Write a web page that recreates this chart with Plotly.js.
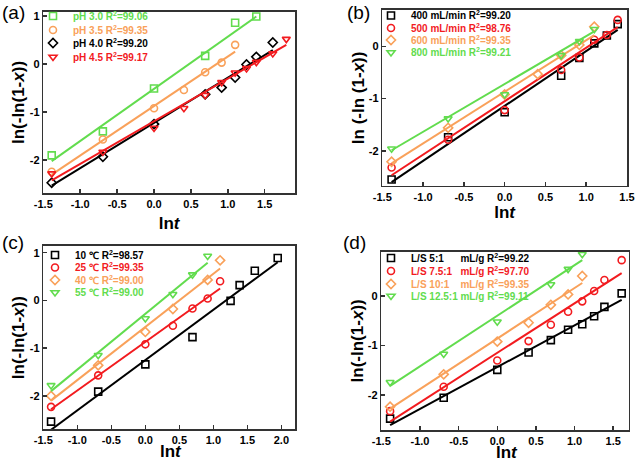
<!DOCTYPE html>
<html>
<head>
<meta charset="utf-8">
<script src="https://cdn.plot.ly/plotly-3.0.1.min.js"></script>
<style>html,body{margin:0;padding:0;background:#fff;}#chart{width:636px;height:462px;}</style>
</head>
<body>
<div id="chart"></div>
<script>
// ---------- colours ----------
const GREEN = '#62DC4E', ORANGE = '#F9A15A', BLACK = '#000000', RED = '#F21B1F';

// ---------- panel (a): pH ----------
const a_pH30_x = [-1.386, -0.693, 0, 0.693, 1.099, 1.386];
const a_pH30_y = [-1.90, -1.40, -0.51, 0.17, 0.86, 0.99];
const a_pH35_x = [-1.386, -0.693, 0, 0.405, 0.693, 0.916, 1.099];
const a_pH35_y = [-2.24, -1.57, -0.92, -0.54, -0.17, 0.03, 0.40];
const a_pH40_x = [-1.386, -0.693, 0, 0.693, 0.916, 1.099, 1.253, 1.386, 1.609];
const a_pH40_y = [-2.47, -1.93, -1.25, -0.63, -0.49, -0.28, -0.01, 0.15, 0.45];
const a_pH45_x = [-1.386, -0.693, 0, 0.405, 0.693, 0.916, 1.099, 1.253, 1.386, 1.609, 1.792];
const a_pH45_y = [-2.28, -1.83, -1.33, -0.92, -0.65, -0.38, -0.18, -0.09, 0.04, 0.22, 0.52];
const a_fit30_x = [-1.386, 1.386], a_fit30_y = [-2.02, 0.99];
const a_fit35_x = [-1.386, 1.099], a_fit35_y = [-2.30, 0.26];
const a_fit40_x = [-1.386, 1.609], a_fit40_y = [-2.53, 0.29];
const a_fit45_x = [-1.386, 1.792], a_fit45_y = [-2.42, 0.40];
const a_names = ['pH 3.0 R<sup>2</sup>=99.06', 'pH 3.5 R<sup>2</sup>=99.35', 'pH 4.0 R<sup>2</sup>=99.20', 'pH 4.5 R<sup>2</sup>=99.17'];

// ---------- panel (b): flow rate ----------
const b_400_x = [-1.386, -0.693, 0, 0.693, 0.916, 1.099, 1.253, 1.386];
const b_400_y = [-2.55, -1.74, -1.26, -0.56, -0.22, 0.06, 0.21, 0.43];
const b_500_x = [-1.386, -0.693, 0, 0.693, 0.916, 1.099, 1.253, 1.386];
const b_500_y = [-2.32, -1.79, -1.22, -0.45, -0.21, 0.13, 0.22, 0.51];
const b_600_x = [-1.386, -0.693, 0, 0.405, 0.693, 0.916, 1.099];
const b_600_y = [-2.21, -1.56, -0.92, -0.53, -0.17, 0.03, 0.38];
const b_800_x = [-1.386, -0.693, 0, 0.693, 0.916, 1.099];
const b_800_y = [-1.96, -1.38, -0.92, -0.17, 0.10, 0.33];
const b_fit400_x = [-1.386, 1.386], b_fit400_y = [-2.60, 0.32];
const b_fit500_x = [-1.386, 1.386], b_fit500_y = [-2.47, 0.37];
const b_fit600_x = [-1.386, 1.099], b_fit600_y = [-2.24, 0.22];
const b_fit800_x = [-1.386, 1.099], b_fit800_y = [-1.99, 0.29];
const b_names = ['400 mL/min R<sup>2</sup>=99.20', '500 mL/min R<sup>2</sup>=98.76', '600 mL/min R<sup>2</sup>=99.35', '800 mL/min R<sup>2</sup>=99.21'];

// ---------- panel (c): temperature ----------
const c_10_x = [-1.386, -0.693, 0, 0.693, 1.253, 1.386, 1.609, 1.946];
const c_10_y = [-2.54, -1.91, -1.34, -0.77, -0.01, 0.32, 0.62, 0.89];
const c_25_x = [-1.386, -0.693, 0, 0.405, 0.693, 0.916, 1.099];
const c_25_y = [-2.23, -1.57, -0.92, -0.53, -0.17, 0.04, 0.40];
const c_40_x = [-1.386, -0.693, 0, 0.405, 0.916, 1.099];
const c_40_y = [-2.00, -1.36, -0.66, -0.18, 0.43, 0.84];
const c_55_x = [-1.386, -0.693, 0, 0.405, 0.693, 0.916];
const c_55_y = [-1.78, -1.15, -0.38, 0.13, 0.54, 0.93];
const c_fit10_x = [-1.386, 1.946], c_fit10_y = [-2.71, 0.80];
const c_fit25_x = [-1.386, 1.099], c_fit25_y = [-2.28, 0.25];
const c_fit40_x = [-1.386, 1.099], c_fit40_y = [-2.10, 0.67];
const c_fit55_x = [-1.386, 0.916], c_fit55_y = [-1.90, 0.79];
const c_names = ['10 \u2103 R<sup>2</sup>=98.57', '25 \u2103 R<sup>2</sup>=99.35', '40 \u2103 R<sup>2</sup>=99.00', '55 \u2103 R<sup>2</sup>=99.00'];

// ---------- panel (d): liquid/solid ratio ----------
const d_5_x = [-1.386, -0.693, 0, 0.405, 0.693, 0.916, 1.099, 1.253, 1.386, 1.609];
const d_5_y = [-2.47, -2.05, -1.49, -1.14, -0.89, -0.68, -0.57, -0.41, -0.22, 0.05];
const d_75_x = [-1.386, -0.693, 0, 0.405, 0.693, 0.916, 1.099, 1.253, 1.386, 1.609];
const d_75_y = [-2.32, -1.83, -1.30, -0.91, -0.58, -0.32, -0.11, 0.10, 0.32, 0.72];
const d_10_x = [-1.386, -0.693, 0, 0.405, 0.693, 0.916, 1.099];
const d_10_y = [-2.23, -1.58, -0.92, -0.54, -0.18, 0.03, 0.40];
const d_125_x = [-1.386, -0.693, 0, 0.693, 0.916, 1.099];
const d_125_y = [-1.74, -1.17, -0.52, 0.23, 0.54, 0.84];
const d_fit5_x = [-1.386, 1.609], d_fit5_y = [-2.60, -0.08];
const d_fit75_x = [-1.386, 1.609], d_fit75_y = [-2.53, 0.46];
const d_fit10_x = [-1.386, 1.099], d_fit10_y = [-2.27, 0.26];
const d_fit125_x = [-1.386, 1.099], d_fit125_y = [-1.81, 0.72];
const d_names = ['L/S 5:1\u00A0\u00A0\u00A0\u00A0\u00A0 mL/g R<sup>2</sup>=99.22', 'L/S 7.5:1\u00A0\u00A0 mL/g R<sup>2</sup>=97.70', 'L/S 10:1\u00A0\u00A0\u00A0 mL/g R<sup>2</sup>=99.35', 'L/S 12.5:1 mL/g R<sup>2</sup>=99.11'];

// ---------- tick labels ----------
const xTickVals = [-1.5, -1.0, -0.5, 0.0, 0.5, 1.0, 1.5, 2.0];
const xTickText = ['-1.5', '-1.0', '-0.5', '0.0', '0.5', '1.0', '1.5', '2.0'];
const yTickVals = [-2, -1, 0, 1];
const yTickText = ['-2', '-1', '0', '1'];

// ---------- build traces ----------
const SYM = {sq: 'square-open', ci: 'circle-open', di: 'diamond-open', tr: 'triangle-down-open'};
const traces = [];
let legIdx = 0;
function addSeries(xa, ya, name, x, y, fx, fy, color, sym) {
  legIdx += 1;
  const leg = legIdx === 1 ? 'legend' : 'legend' + legIdx;
  traces.push({type: 'scatter', mode: 'lines', x: fx, y: fy, xaxis: xa, yaxis: ya,
    line: {color: color, width: 2}, showlegend: false, hoverinfo: 'skip'});
  traces.push({type: 'scatter', mode: 'markers', x: x, y: y, xaxis: xa, yaxis: ya, legend: leg,
    name: '<span style="color:' + color + '">' + name + '</span>',
    marker: {symbol: sym, size: 7, color: color, line: {width: 1.6, color: color}}});
}
addSeries('x', 'y', a_names[0], a_pH30_x, a_pH30_y, a_fit30_x, a_fit30_y, GREEN, SYM.sq);
addSeries('x', 'y', a_names[1], a_pH35_x, a_pH35_y, a_fit35_x, a_fit35_y, ORANGE, SYM.ci);
addSeries('x', 'y', a_names[2], a_pH40_x, a_pH40_y, a_fit40_x, a_fit40_y, BLACK, SYM.di);
addSeries('x', 'y', a_names[3], a_pH45_x, a_pH45_y, a_fit45_x, a_fit45_y, RED, SYM.tr);

addSeries('x2', 'y2', b_names[0], b_400_x, b_400_y, b_fit400_x, b_fit400_y, BLACK, SYM.sq);
addSeries('x2', 'y2', b_names[1], b_500_x, b_500_y, b_fit500_x, b_fit500_y, RED, SYM.ci);
addSeries('x2', 'y2', b_names[2], b_600_x, b_600_y, b_fit600_x, b_fit600_y, ORANGE, SYM.di);
addSeries('x2', 'y2', b_names[3], b_800_x, b_800_y, b_fit800_x, b_fit800_y, GREEN, SYM.tr);

addSeries('x3', 'y3', c_names[0], c_10_x, c_10_y, c_fit10_x, c_fit10_y, BLACK, SYM.sq);
addSeries('x3', 'y3', c_names[1], c_25_x, c_25_y, c_fit25_x, c_fit25_y, RED, SYM.ci);
addSeries('x3', 'y3', c_names[2], c_40_x, c_40_y, c_fit40_x, c_fit40_y, ORANGE, SYM.di);
addSeries('x3', 'y3', c_names[3], c_55_x, c_55_y, c_fit55_x, c_fit55_y, GREEN, SYM.tr);

addSeries('x4', 'y4', d_names[0], d_5_x, d_5_y, d_fit5_x, d_fit5_y, BLACK, SYM.sq);
addSeries('x4', 'y4', d_names[1], d_75_x, d_75_y, d_fit75_x, d_fit75_y, RED, SYM.ci);
addSeries('x4', 'y4', d_names[2], d_10_x, d_10_y, d_fit10_x, d_fit10_y, ORANGE, SYM.di);
addSeries('x4', 'y4', d_names[3], d_125_x, d_125_y, d_fit125_x, d_fit125_y, GREEN, SYM.tr);

// ---------- layout ----------
const FONT = 'Liberation Sans, Arial, sans-serif';
const W = 636, H = 462;
const XT = 'ln<i>t</i>';
function xAx(l, r, range, anchor, title, standoff) {
  return {domain: [l / W, r / W], range: range, anchor: anchor, automargin: false,
    showline: true, mirror: true, linecolor: '#333', linewidth: 1.6,
    ticks: 'inside', ticklen: 4, tickwidth: 1.5, tickcolor: '#333',
    tickvals: xTickVals, ticktext: xTickText, showgrid: false, zeroline: false,
    tickfont: {family: FONT, size: 11, weight: 'bold', color: '#000'},
    title: {text: title, font: {family: FONT, size: 17, weight: 'bold', color: '#000'}, standoff: standoff}};
}
function yAx(t, b, range, anchor, title, standoff) {
  return {domain: [1 - b / H, 1 - t / H], range: range, anchor: anchor, automargin: false,
    showline: true, mirror: true, linecolor: '#333', linewidth: 1.6,
    ticks: 'inside', ticklen: 4, tickwidth: 1.5, tickcolor: '#333',
    tickvals: yTickVals, ticktext: yTickText, showgrid: false, zeroline: false,
    tickfont: {family: FONT, size: 11, weight: 'bold', color: '#000'},
    title: {text: title, font: {family: FONT, size: 17, weight: 'bold', color: '#000'}, standoff: standoff}};
}
function leg(xpx, ypx) {
  return {x: xpx / W, y: 1 - ypx / H, xanchor: 'left', yanchor: 'middle', bgcolor: 'rgba(0,0,0,0)',
    font: {family: FONT, size: 10, weight: 'bold'}, itemwidth: 30};
}
const YT = 'ln(-ln(1-<i>x</i>))';
const panelLabel = {family: FONT, size: 19, color: '#000'};
const bottomTitle = {family: FONT, size: 17, weight: 'bold', color: '#000'};
const layout = {
  width: W, height: H, margin: {l: 0, r: 0, t: 0, b: 0},
  paper_bgcolor: '#fff', plot_bgcolor: '#fff',
  font: {family: FONT, color: '#000'},
  xaxis: xAx(43.3, 295, [-1.5, 1.91], 'y', XT, 8),
  yaxis: yAx(11.7, 193.3, [-2.69, 1.09], 'x', YT, 1),
  xaxis2: xAx(382.3, 627, [-1.5, 1.5], 'y2', XT, 4),
  yaxis2: yAx(10, 185.7, [-2.67, 0.70], 'x2', 'ln (-ln (1-<i>x</i>))', 0),
  xaxis3: xAx(43.3, 295, [-1.5, 2.2], 'y3', '', 0),
  yaxis3: yAx(246, 429.3, [-2.70, 1.14], 'x3', YT, 1),
  xaxis4: xAx(381.3, 628.7, [-1.5, 1.7], 'y4', '', 0),
  yaxis4: yAx(251.7, 430, [-2.70, 0.89], 'x4', YT, 0),
  annotations: [
    {text: '(a)', x: 14 / W, y: 1 - 13 / H, font: panelLabel},
    {text: '(b)', x: 358 / W, y: 1 - 13 / H, font: panelLabel},
    {text: '(c)', x: 13 / W, y: 1 - 242 / H, font: panelLabel},
    {text: '(d)', x: 354 / W, y: 1 - 242 / H, font: panelLabel},
    // x-axis titles of the lower panels (axis titles are clamped inside the page edge)
    {text: XT, x: 171 / W, y: 1 - 451.5 / H, font: bottomTitle},
    {text: XT, x: 507 / W, y: 1 - 452 / H, font: bottomTitle}
  ].map(a => Object.assign(a, {xref: 'paper', yref: 'paper', xanchor: 'center', yanchor: 'middle',
    showarrow: false, borderpad: 0}))
};
// one legend per entry so the rows sit as tightly as in the reference
const legendSpots = [
  [33, 16], [33, 30], [33, 43], [33, 57],
  [371, 15.5], [371, 28], [371, 40], [371, 52.5],
  [35, 255], [35, 267.5], [35, 280], [35, 292.5],
  [371, 258], [371, 271], [371, 284], [371, 296]
];
legendSpots.forEach((p, i) => {
  layout[i === 0 ? 'legend' : 'legend' + (i + 1)] = leg(p[0], p[1]);
});

Plotly.newPlot('chart', traces, layout, {staticPlot: true, displayModeBar: false});
</script>
</body>
</html>
